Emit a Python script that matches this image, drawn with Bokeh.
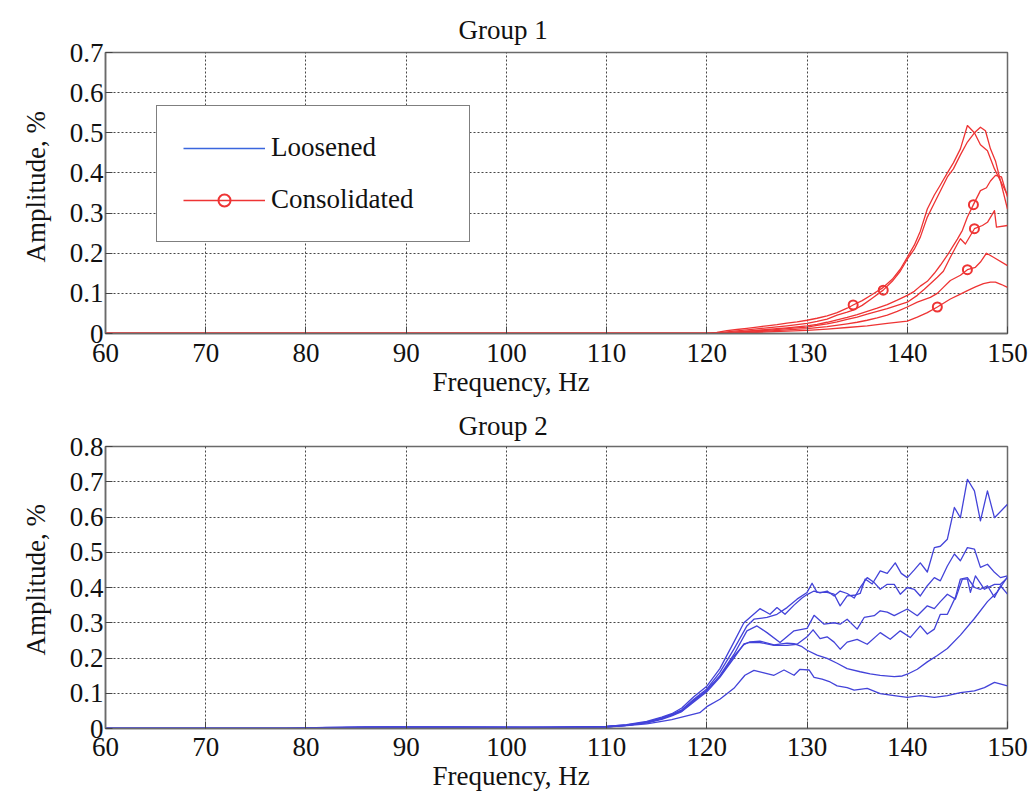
from bokeh.plotting import figure
from bokeh.models import Range1d, FixedTicker, Title, Legend, LegendItem
from bokeh.layouts import column
from bokeh.embed import file_html
from bokeh.resources import INLINE

# ---------------- data ----------------
x_ticks = [60, 70, 80, 90, 100, 110, 120, 130, 140, 150]
x_tick_labels = ["60", "70", "80", "90", "100", "110", "120", "130", "140", "150"]
g1_y_ticks = [0, 0.1, 0.2, 0.3, 0.4, 0.5, 0.6, 0.7]
g1_y_tick_labels = ["0", "0.1", "0.2", "0.3", "0.4", "0.5", "0.6", "0.7"]
g2_y_ticks = [0, 0.1, 0.2, 0.3, 0.4, 0.5, 0.6, 0.7, 0.8]
g2_y_tick_labels = ["0", "0.1", "0.2", "0.3", "0.4", "0.5", "0.6", "0.7", "0.8"]

# Group 1 (Consolidated, red)
g1_a_freq = [60, 120, 121, 122, 123, 124, 125, 126, 127, 128, 129, 130, 131, 132, 133, 134, 134.6, 135.5, 136.5, 137.5, 138.5, 139.3, 140, 140.7, 141.3, 142, 142.7, 143.3, 144, 144.6, 145.3, 146.0, 146.7, 147.3, 148.0, 148.7, 149.3, 150]
g1_a_amp = [0, 0, 0.003, 0.007, 0.010, 0.013, 0.016, 0.019, 0.022, 0.026, 0.029, 0.033, 0.038, 0.044, 0.052, 0.063, 0.071, 0.082, 0.097, 0.113, 0.135, 0.160, 0.190, 0.220, 0.255, 0.310, 0.345, 0.370, 0.400, 0.425, 0.460, 0.518, 0.500, 0.470, 0.455, 0.410, 0.380, 0.345]
g1_b_freq = [60, 120.5, 122, 124, 126, 128, 130, 131, 132, 133, 134, 134.6, 135.5, 136.5, 137.6, 138.5, 139.3, 140, 140.7, 141.3, 142, 142.7, 143.3, 144, 144.6, 145.3, 146, 146.7, 147.3, 147.8, 148.3, 148.8, 149.4, 150]
g1_b_amp = [0, 0, 0.004, 0.009, 0.014, 0.019, 0.025, 0.030, 0.036, 0.046, 0.053, 0.058, 0.070, 0.088, 0.108, 0.130, 0.155, 0.185, 0.210, 0.240, 0.290, 0.325, 0.355, 0.390, 0.410, 0.445, 0.477, 0.500, 0.514, 0.505, 0.460, 0.430, 0.370, 0.310]
g1_c_freq = [60, 121, 122, 124, 126, 128, 130, 131, 132, 133, 134, 135, 136, 137, 138, 139, 140, 140.7, 141.3, 142, 142.7, 143.3, 144, 144.5, 145, 145.5, 146, 146.6, 147.3, 147.9, 148.3, 148.8, 149.4, 150]
g1_c_amp = [0, 0, 0.002, 0.006, 0.010, 0.014, 0.019, 0.023, 0.028, 0.034, 0.040, 0.047, 0.055, 0.063, 0.072, 0.083, 0.095, 0.105, 0.118, 0.130, 0.150, 0.170, 0.195, 0.215, 0.235, 0.257, 0.290, 0.321, 0.356, 0.363, 0.380, 0.394, 0.390, 0.340]
g1_d_freq = [60, 121, 122, 124, 126, 128, 130, 131, 132, 133, 134, 135, 136, 137, 138, 139, 140, 141, 141.7, 142.3, 143, 143.6, 144.3, 145, 145.3, 145.8, 146.7, 147.5, 148.0, 148.7, 148.9, 150]
g1_d_amp = [0, 0, 0.001, 0.005, 0.008, 0.012, 0.016, 0.020, 0.024, 0.029, 0.035, 0.041, 0.048, 0.055, 0.062, 0.070, 0.078, 0.095, 0.110, 0.124, 0.140, 0.155, 0.190, 0.223, 0.236, 0.223, 0.261, 0.269, 0.277, 0.306, 0.265, 0.269]
g1_e_freq = [60, 122, 124, 126, 128, 130, 132, 134, 135, 136, 137, 138, 139, 140, 141, 142.3, 143, 143.6, 144.3, 145.3, 146.0, 146.8, 147.3, 147.9, 148.6, 150]
g1_e_amp = [0, 0, 0.003, 0.006, 0.009, 0.012, 0.017, 0.024, 0.028, 0.033, 0.039, 0.046, 0.055, 0.066, 0.078, 0.090, 0.100, 0.115, 0.132, 0.145, 0.159, 0.165, 0.178, 0.200, 0.190, 0.169]
g1_f_freq = [60, 122.5, 124, 126, 128, 130, 132, 134, 136, 138, 140, 141, 142, 143, 144.3, 145.2, 146, 146.8, 147.6, 148.3, 148.8, 149.4, 150]
g1_f_amp = [0, 0, 0.002, 0.004, 0.006, 0.008, 0.011, 0.015, 0.019, 0.025, 0.031, 0.041, 0.052, 0.066, 0.086, 0.097, 0.107, 0.116, 0.124, 0.128, 0.128, 0.122, 0.115]
g1_marker_freq = [134.6, 137.6, 146.6, 146.7, 146.0, 143.0]
g1_marker_amp = [0.071, 0.108, 0.321, 0.261, 0.159, 0.066]

# Group 2 (Loosened, blue)
g2_a_freq = [60, 78, 82, 90, 100, 106, 110, 112, 114, 115.5, 116.5, 117.5, 118.7, 120, 121.3, 122.7, 124, 124.7, 126, 127, 128, 129, 130, 130.5, 131, 132, 132.7, 133.3, 134, 134.7, 135.3, 135.8, 136.5, 137.3, 138, 138.8, 139.4, 140, 140.7, 141.3, 142, 142.7, 143.3, 144, 144.7, 145.3, 146, 146.7, 147.3, 148, 148.7, 150]
g2_a_amp = [0, 0, 0.003, 0.004, 0.003, 0.003, 0.006, 0.010, 0.018, 0.030, 0.040, 0.053, 0.083, 0.112, 0.159, 0.225, 0.291, 0.310, 0.315, 0.324, 0.343, 0.367, 0.386, 0.412, 0.386, 0.386, 0.381, 0.348, 0.376, 0.378, 0.383, 0.424, 0.410, 0.447, 0.440, 0.470, 0.440, 0.428, 0.450, 0.470, 0.444, 0.513, 0.517, 0.537, 0.627, 0.598, 0.707, 0.674, 0.589, 0.674, 0.598, 0.636]
g2_b_freq = [60, 78, 84, 92, 100, 106, 110, 112, 114, 115.5, 116.5, 117.5, 118.7, 120, 121.3, 122.7, 123.7, 124.3, 125.3, 126.3, 127, 127.8, 128.7, 129.5, 130, 130.7, 131.3, 132, 132.7, 133.3, 134, 134.7, 135.3, 136, 136.7, 137.3, 138, 138.7, 139.3, 140, 140.7, 141.3, 142, 142.7, 143.3, 144, 144.7, 145.3, 146, 146.7, 147.3, 148, 148.7, 149.3, 150]
g2_b_amp = [0, 0, 0.004, 0.004, 0.004, 0.002, 0.006, 0.011, 0.020, 0.032, 0.042, 0.058, 0.090, 0.120, 0.170, 0.245, 0.300, 0.315, 0.340, 0.324, 0.343, 0.324, 0.350, 0.370, 0.380, 0.390, 0.385, 0.390, 0.376, 0.390, 0.383, 0.370, 0.400, 0.428, 0.414, 0.395, 0.409, 0.409, 0.381, 0.400, 0.395, 0.376, 0.405, 0.428, 0.419, 0.461, 0.495, 0.476, 0.513, 0.509, 0.457, 0.466, 0.443, 0.428, 0.433]
g2_c_freq = [60, 80, 86, 95, 102, 110, 112, 114, 115.5, 116.5, 117.5, 118.7, 120, 121.3, 122.7, 124, 125, 126, 127.3, 128.7, 130, 130.7, 131.7, 132.7, 133.3, 134, 135, 135.7, 136.7, 137.3, 138, 138.7, 140, 141, 142, 142.7, 143.3, 144, 144.8, 145.5, 146, 146.3, 146.8, 147.7, 148.7, 149.3, 150]
g2_c_amp = [0, 0, 0.004, 0.003, 0.003, 0.005, 0.009, 0.017, 0.028, 0.038, 0.050, 0.078, 0.108, 0.150, 0.210, 0.277, 0.291, 0.272, 0.244, 0.277, 0.284, 0.321, 0.296, 0.300, 0.296, 0.310, 0.282, 0.315, 0.320, 0.334, 0.330, 0.320, 0.339, 0.320, 0.348, 0.340, 0.360, 0.381, 0.367, 0.424, 0.424, 0.386, 0.433, 0.395, 0.409, 0.409, 0.428]
g2_d_freq = [60, 80, 85, 95, 103, 110, 112, 114, 115.5, 116.5, 117.5, 118.7, 120, 121.3, 122.7, 123.7, 124.3, 125.3, 126.7, 128, 129, 130, 130.6, 131.3, 132, 132.7, 133.3, 134, 135, 136, 137.3, 138.3, 139.3, 140.3, 141.3, 142, 142.7, 143.3, 144, 144.8, 145.3, 146, 146.7, 147.3, 148, 148.7, 149.3, 150]
g2_d_amp = [0, 0, 0.003, 0.004, 0.002, 0.005, 0.009, 0.016, 0.026, 0.036, 0.048, 0.075, 0.104, 0.145, 0.200, 0.240, 0.244, 0.244, 0.236, 0.236, 0.239, 0.260, 0.280, 0.255, 0.260, 0.245, 0.225, 0.245, 0.253, 0.239, 0.272, 0.253, 0.277, 0.258, 0.291, 0.268, 0.282, 0.324, 0.324, 0.372, 0.424, 0.428, 0.400, 0.395, 0.405, 0.372, 0.405, 0.381]
g2_e_freq = [60, 80, 88, 98, 110, 112, 114, 115.5, 116.5, 117.5, 118.7, 120, 121.3, 122.7, 123.7, 124.3, 125.3, 126.7, 128, 128.7, 129.5, 130, 131, 132, 133, 134, 135.3, 136.3, 137.3, 138.7, 139.5, 140, 141, 142, 143, 144, 145.3, 146.7, 148, 149, 150]
g2_e_amp = [0, 0, 0.004, 0.003, 0.005, 0.009, 0.017, 0.028, 0.038, 0.050, 0.080, 0.108, 0.148, 0.205, 0.238, 0.246, 0.248, 0.237, 0.242, 0.241, 0.232, 0.222, 0.208, 0.199, 0.185, 0.170, 0.161, 0.155, 0.151, 0.147, 0.149, 0.154, 0.168, 0.189, 0.207, 0.227, 0.265, 0.312, 0.360, 0.388, 0.430]
g2_f_freq = [60, 80, 86, 96, 110, 112, 114, 115.5, 116.5, 117.3, 119.3, 120, 121.3, 122.7, 123.8, 124.7, 125.7, 126.7, 127.7, 128.7, 129.3, 130.2, 130.7, 131.5, 132.3, 133, 134, 134.7, 136, 137.3, 138.7, 140, 141.3, 142.7, 144, 145.3, 146.7, 147.7, 148.7, 150]
g2_f_amp = [0, 0, 0.003, 0.003, 0.004, 0.008, 0.013, 0.020, 0.025, 0.031, 0.045, 0.062, 0.083, 0.114, 0.151, 0.165, 0.158, 0.151, 0.166, 0.151, 0.168, 0.166, 0.145, 0.140, 0.132, 0.121, 0.116, 0.109, 0.114, 0.099, 0.093, 0.088, 0.093, 0.088, 0.093, 0.102, 0.107, 0.116, 0.131, 0.121]

# ---------------- styling ----------------
FONT = "Liberation Serif"
FS = "27px"
RED = "#ee3434"
BLUE = "#4343d9"
LEG_BLUE = "#3a66dd"
NAN = float("nan")


def style_axis(ax, ticks):
    ax.ticker = FixedTicker(ticks=ticks)
    ax.major_label_text_font = FONT
    ax.major_label_text_font_size = FS
    ax.major_label_text_color = "#111111"
    ax.axis_line_color = "#6a6a6a"
    ax.axis_line_width = 1.5
    ax.major_tick_in = 7
    ax.major_tick_out = 0
    ax.major_tick_line_color = "#444444"
    ax.minor_tick_line_color = None


def style(p, y_ticks, y_labels, x_standoff, title_text, title_standoff, ylab_offset):
    p.title.text = title_text
    p.title.align = "left"
    p.title.offset = 353
    p.title.standoff = title_standoff
    p.title.text_font = FONT
    p.title.text_font_size = FS
    p.title.text_font_style = "normal"
    p.title.text_color = "#111111"

    style_axis(p.xaxis[0], x_ticks)
    style_axis(p.yaxis[0], y_ticks)
    p.xaxis[0].major_label_overrides = {t: l for t, l in zip(x_ticks, x_tick_labels)}
    p.yaxis[0].major_label_overrides = {t: l for t, l in zip(y_ticks, y_labels)}
    p.xaxis[0].major_label_standoff = x_standoff
    p.yaxis[0].major_label_standoff = 2

    yl = Title(text="Amplitude, %", align="left", offset=ylab_offset, standoff=31,
               text_font=FONT, text_font_size=FS, text_font_style="normal", text_color="#111111")
    p.add_layout(yl, "left")

    xl = Title(text="Frequency, Hz", align="left", offset=327, standoff=0,
               text_font=FONT, text_font_size=FS, text_font_style="normal", text_color="#111111")
    p.add_layout(xl, "below")

    p.outline_line_color = "#6a6a6a"
    p.outline_line_width = 1.5
    p.outline_line_alpha = 1.0
    for g in (p.xgrid, p.ygrid):
        g.grid_line_color = "#333333"
        g.grid_line_dash = "2 2"
        g.grid_line_width = 1
        g.grid_line_alpha = 0.9
    p.background_fill_color = "white"
    p.border_fill_color = "white"


# ---------------- Group 1 ----------------
p1 = figure(frame_width=902, frame_height=281, x_range=Range1d(60, 150), y_range=Range1d(0, 0.7),
            output_backend="svg", toolbar_location=None,
            min_border_left=105, min_border_right=25, min_border_top=52, min_border_bottom=70)
style(p1, g1_y_ticks, g1_y_tick_labels, 10, "Group 1", 15, 71)

red_series = [(g1_a_freq, g1_a_amp), (g1_b_freq, g1_b_amp), (g1_c_freq, g1_c_amp),
              (g1_d_freq, g1_d_amp), (g1_e_freq, g1_e_amp), (g1_f_freq, g1_f_amp)]
for fx, fy in red_series:
    p1.line(fx, fy, line_color=RED, line_width=1.3, line_join="round")
mk = p1.scatter(g1_marker_freq, g1_marker_amp, marker="circle", size=9,
                line_color=RED, line_width=2, fill_color=None)
# legend-only swatches (no visible data)
leg_blue = p1.line(x=[NAN, NAN], y=[NAN, NAN], line_color=LEG_BLUE, line_width=1.6)
leg_red = p1.line(x=[NAN, NAN], y=[NAN, NAN], line_color=RED, line_width=1.6)

legend = Legend(items=[LegendItem(label="Loosened", renderers=[leg_blue]),
                       LegendItem(label="Consolidated", renderers=[leg_red, mk])],
                location=(51, 91))
legend.border_line_color = "black"
legend.border_line_width = 1.5
legend.background_fill_color = "white"
legend.background_fill_alpha = 1.0
legend.padding = 26
legend.spacing = 21
legend.margin = 0
legend.glyph_width = 82
legend.glyph_height = 30
legend.label_height = 30
legend.label_width = 172
legend.label_standoff = 6
legend.label_text_font = FONT
legend.label_text_font_size = FS
legend.label_text_color = "#111111"
p1.add_layout(legend)

# ---------------- Group 2 ----------------
p2 = figure(frame_width=902, frame_height=282, x_range=Range1d(60, 150), y_range=Range1d(0, 0.8),
            output_backend="svg", toolbar_location=None,
            min_border_left=105, min_border_right=25, min_border_top=41, min_border_bottom=69)
style(p2, g2_y_ticks, g2_y_tick_labels, 9, "Group 2", 11, 73)

blue_series = [(g2_a_freq, g2_a_amp), (g2_b_freq, g2_b_amp), (g2_c_freq, g2_c_amp),
               (g2_d_freq, g2_d_amp), (g2_e_freq, g2_e_amp), (g2_f_freq, g2_f_amp)]
for fx, fy in blue_series:
    p2.line(fx, fy, line_color=BLUE, line_width=1.3, line_join="round")

layout = column(p1, p2, spacing=0)
open("out.html", "w").write(file_html(layout, INLINE))
